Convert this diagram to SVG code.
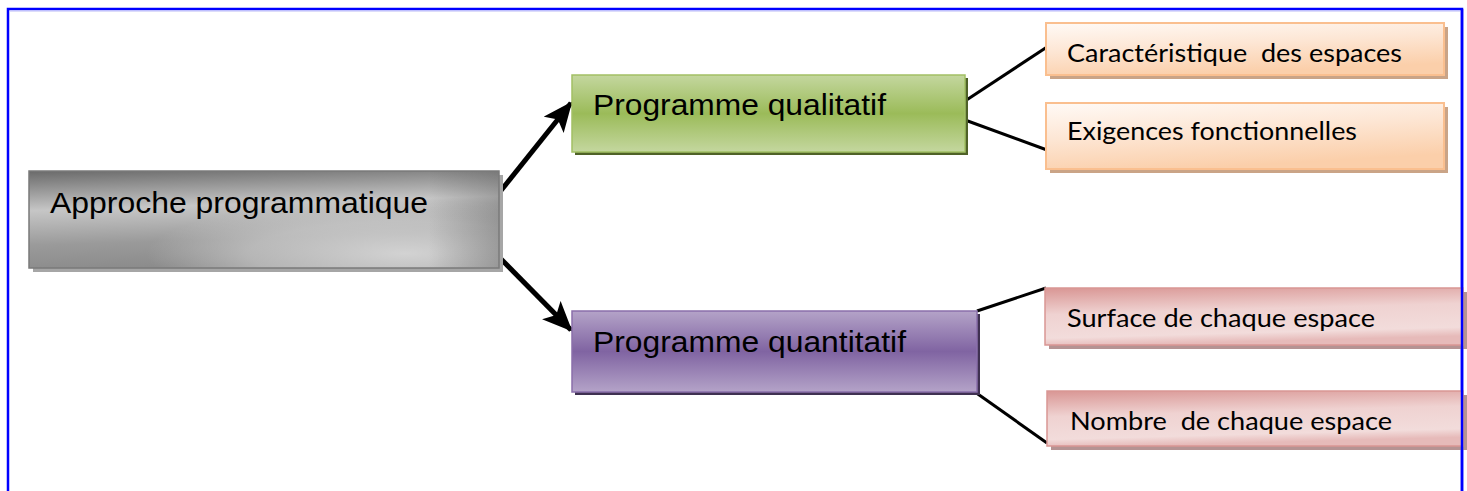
<svg xmlns="http://www.w3.org/2000/svg" width="1467" height="491" viewBox="0 0 1467 491">
<defs>
<linearGradient id="gGray" x1="0" y1="0" x2="0.15" y2="1">
<stop offset="0" stop-color="#6a6a6a"/>
<stop offset="0.4" stop-color="#c6c6c6"/>
<stop offset="0.75" stop-color="#9a9a9a"/>
<stop offset="1" stop-color="#8c8c8c"/>
</linearGradient>
<radialGradient id="gGray2" cx="0.8" cy="0.85" r="0.55">
<stop offset="0" stop-color="#d6d6d6" stop-opacity="0.95"/>
<stop offset="0.6" stop-color="#d0d0d0" stop-opacity="0.6"/>
<stop offset="1" stop-color="#d0d0d0" stop-opacity="0"/>
</radialGradient>
<linearGradient id="gGray3" x1="0" y1="0" x2="1" y2="0">
<stop offset="0" stop-color="#555" stop-opacity="0"/>
<stop offset="0.85" stop-color="#555" stop-opacity="0"/>
<stop offset="1" stop-color="#555" stop-opacity="0.35"/>
</linearGradient>
<linearGradient id="gGreen" x1="0" y1="0" x2="0" y2="1">
<stop offset="0" stop-color="#c4d79f"/>
<stop offset="0.5" stop-color="#9bbb59"/>
<stop offset="1" stop-color="#c4d79f"/>
</linearGradient>
<linearGradient id="gPurple" x1="0" y1="0" x2="0" y2="1">
<stop offset="0" stop-color="#b4a3c8"/>
<stop offset="0.5" stop-color="#8064a2"/>
<stop offset="1" stop-color="#b4a3c8"/>
</linearGradient>
<linearGradient id="gPeach" x1="0" y1="0" x2="0.35" y2="1">
<stop offset="0" stop-color="#fffaf6"/>
<stop offset="0.5" stop-color="#fde6d4"/>
<stop offset="1" stop-color="#fbcfaa"/>
</linearGradient>
<linearGradient id="gPink" x1="0" y1="0" x2="0.2" y2="1">
<stop offset="0" stop-color="#d99694"/>
<stop offset="0.45" stop-color="#efd2d1"/>
<stop offset="0.85" stop-color="#f2dcdb"/>
<stop offset="1" stop-color="#e6bab9"/>
</linearGradient>
<marker id="arr" markerUnits="userSpaceOnUse" markerWidth="30" markerHeight="26" refX="28" refY="13" orient="auto">
<path d="M0,0 L30,13 L0,26 L7,13 Z" fill="#000"/>
</marker>
<style>
.arial{font-family:"Liberation Sans",Arial,sans-serif;font-size:30px;fill:#000}
.cal{font-family:Lato,"Open Sans",sans-serif;font-size:25px;fill:#000;white-space:pre}
.conn{stroke:#000;stroke-width:3;fill:none}
.arrow{stroke:#000;stroke-width:5;fill:none}
</style>
</defs>
<rect x="8" y="9" width="1454" height="500" fill="#ffffff" stroke="#0000ff" stroke-width="2.5"/>
<line x1="10" y1="11.5" x2="1460" y2="11.5" stroke="#dcdcfa" stroke-width="1"/>

<g id="connectors">
<line class="arrow" x1="499" y1="193" x2="571" y2="103" marker-end="url(#arr)"/>
<line class="arrow" x1="499" y1="257" x2="571" y2="330" marker-end="url(#arr)"/>
<line class="conn" x1="965" y1="101" x2="1047" y2="47"/>
<line class="conn" x1="965" y1="120" x2="1047" y2="150"/>
<line class="conn" x1="977" y1="311" x2="1046" y2="288"/>
<line class="conn" x1="975" y1="392" x2="1047" y2="443"/>
</g>

<g id="approche">
<rect x="33" y="175" width="470" height="97" fill="#a6a6a6"/>
<rect x="29" y="171" width="470" height="97" fill="url(#gGray)"/>
<rect x="29" y="171" width="470" height="97" fill="url(#gGray2)"/>
<rect x="29" y="171" width="470" height="97" fill="url(#gGray3)" stroke="#7a7a7a" stroke-width="1.5"/>
<text class="arial" x="50" y="213" textLength="378" lengthAdjust="spacingAndGlyphs">Approche programmatique</text>
</g>

<g id="qualitatif">
<rect x="575" y="78" width="393" height="77" fill="#4f6228"/>
<rect x="572" y="75" width="393" height="77" fill="url(#gGreen)" stroke="#a2c064" stroke-width="1.5"/>
<text class="arial" x="593" y="115" textLength="293" lengthAdjust="spacingAndGlyphs">Programme qualitatif</text>
</g>

<g id="quantitatif">
<rect x="575" y="314" width="405" height="81" fill="#3f3151"/>
<rect x="572" y="311" width="405" height="81" fill="url(#gPurple)" stroke="#8a6fab" stroke-width="1.5"/>
<text class="arial" x="593" y="352" textLength="313" lengthAdjust="spacingAndGlyphs">Programme quantitatif</text>
</g>

<g id="caracteristique">
<rect x="1050" y="27" width="398" height="52" fill="#caa487"/>
<rect x="1046" y="23" width="398" height="52" fill="url(#gPeach)" stroke="#fabf8f" stroke-width="2"/>
<text class="cal" x="1067" y="61.5" textLength="335" lengthAdjust="spacingAndGlyphs">Caractéristique  des espaces</text>
</g>

<g id="exigences">
<rect x="1050" y="107" width="398" height="66" fill="#caa487"/>
<rect x="1046" y="103" width="398" height="66" fill="url(#gPeach)" stroke="#fabf8f" stroke-width="2"/>
<text class="cal" x="1067" y="140" textLength="290" lengthAdjust="spacingAndGlyphs">Exigences fonctionnelles</text>
</g>

<g id="surface">
<rect x="1049" y="292" width="418" height="57" fill="#b59393"/>
<rect x="1045" y="288" width="418" height="57" fill="url(#gPink)" stroke="#d99694" stroke-width="1.5"/>
<text class="cal" x="1067" y="327" textLength="308" lengthAdjust="spacingAndGlyphs">Surface de chaque espace</text>
</g>

<g id="nombre">
<rect x="1051" y="395" width="416" height="55" fill="#b59393"/>
<rect x="1047" y="391" width="416" height="55" fill="url(#gPink)" stroke="#d99694" stroke-width="1.5"/>
<text class="cal" x="1070" y="430" textLength="322" lengthAdjust="spacingAndGlyphs">Nombre  de chaque espace</text>
</g>

<line x1="1462" y1="9" x2="1462" y2="491" stroke="#0000ff" stroke-width="2.5"/>
</svg>
